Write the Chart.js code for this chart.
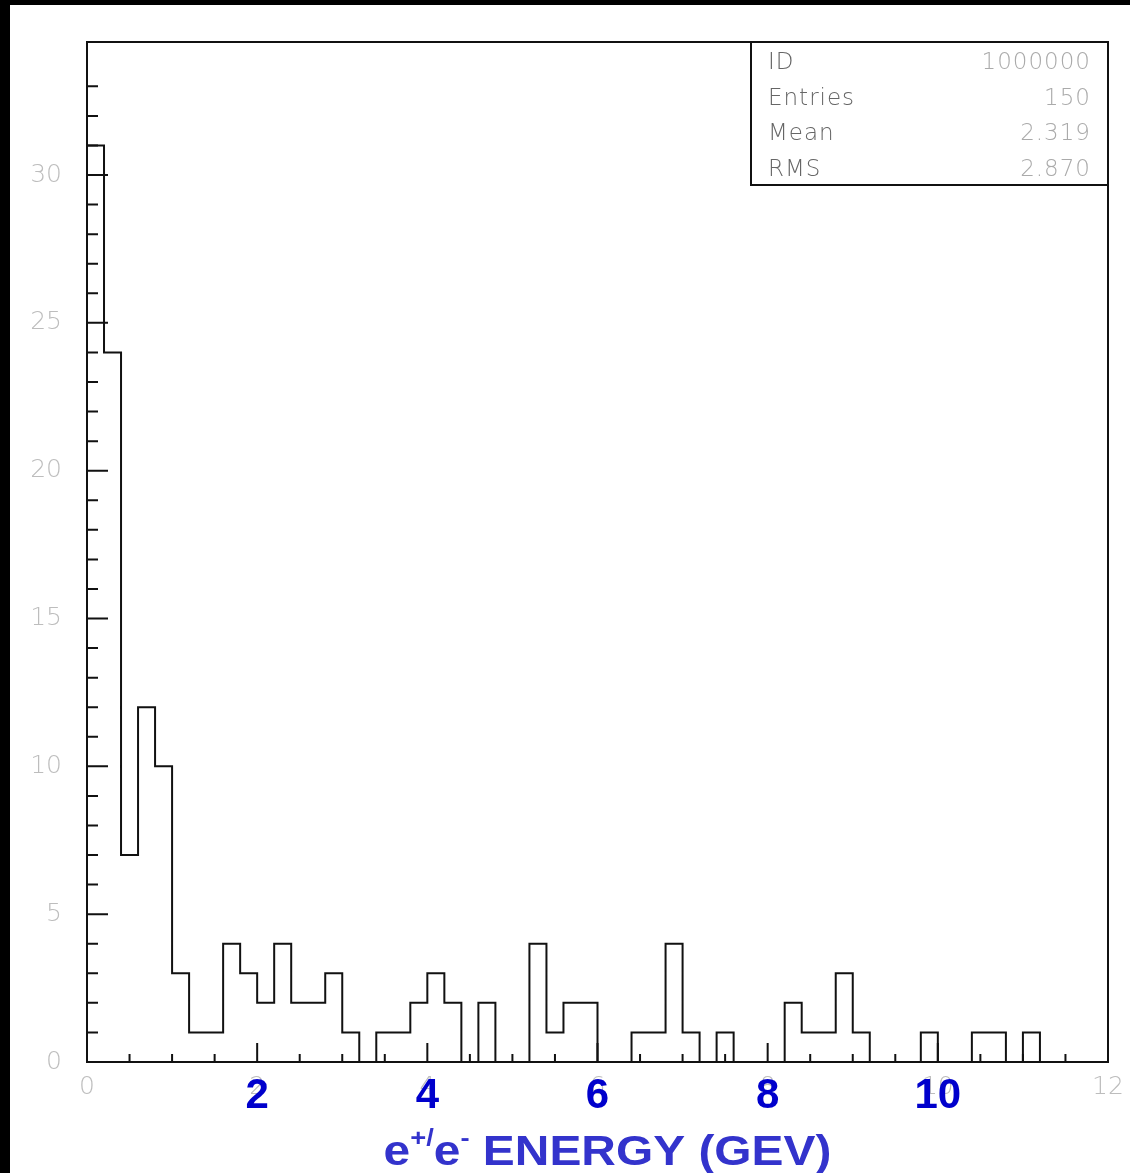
<!DOCTYPE html>
<html lang="en">
<head>
<meta charset="utf-8">
<title>e+/e- energy</title>
<script src="https://cdn.jsdelivr.net/npm/chart.js@4.4.1/dist/chart.umd.min.js"></script>
<style>
    html, body { margin: 0; padding: 0; background: #000; }
    #painel { position: absolute; left: 10px; top: 5px; width: 1120px; height: 1168px; background: #fff; }
    #grafico { display: block; }
</style>
</head>
<body>
<div id="painel"><canvas id="grafico" width="1120" height="1168"></canvas></div>
<script>
// Bordas dos bins (GeV), 60 bins de 0.2
const limitesBins = [
    0, 0.2, 0.4, 0.6, 0.8, 1, 1.2, 1.4, 1.6, 1.8,
    2, 2.2, 2.4, 2.6, 2.8, 3, 3.2, 3.4, 3.6, 3.8,
    4, 4.2, 4.4, 4.6, 4.8, 5, 5.2, 5.4, 5.6, 5.8,
    6, 6.2, 6.4, 6.6, 6.8, 7, 7.2, 7.4, 7.6, 7.8,
    8, 8.2, 8.4, 8.6, 8.8, 9, 9.2, 9.4, 9.6, 9.8,
    10, 10.2, 10.4, 10.6, 10.8, 11, 11.2, 11.4, 11.6, 11.8,
    12
];

// Entradas por bin
const contagens = [
    31, 24, 7, 12, 10, 3, 1, 1, 4, 3,
    2, 4, 2, 2, 3, 1, 0, 1, 1, 2,
    3, 2, 0, 2, 0, 0, 4, 1, 2, 2,
    0, 0, 1, 1, 4, 1, 0, 1, 0, 0,
    0, 2, 1, 1, 3, 1, 0, 0, 0, 1,
    0, 0, 1, 1, 0, 1, 0, 0, 0, 0
];

const rotulosX = [0, 2, 4, 6, 8, 10, 12];
const rotulosXDestaque = ['2', '4', '6', '8', '10'];
const rotulosY = [0, 5, 10, 15, 20, 25, 30];

const estatNomes = ['ID', 'Entries', 'Mean', 'RMS'];
const estatValores = ['1000000', '150', '2.319', '2.870'];

const tituloPartes = [
    { texto: 'e', sup: false },
    { texto: '+/', sup: true },
    { texto: 'e', sup: false },
    { texto: '-', sup: true },
    { texto: ' ENERGY (GEV)', sup: false }
];

const fonteFina = "'DejaVu Sans', sans-serif";
const fonteSlide = "'Liberation Sans', Arial, sans-serif";

/**
 * Moldura, ticks para dentro, caixa de estatisticas e textos azuis do slide.
 */
const decoracaoPaw = {
    id: 'decoracaoPaw',
    afterDraw(chart) {
        const { ctx, chartArea: area, scales: { x, y } } = chart;
        ctx.save();
        ctx.strokeStyle = '#111';
        ctx.lineWidth = 2;

        // moldura do histograma
        ctx.strokeRect(area.left, area.top, area.right - area.left, area.bottom - area.top);

        // ticks internos
        ctx.beginPath();
        y.ticks.forEach(t => {
            if (!Number.isInteger(t.value) || t.value <= y.min) return;
            const py = y.getPixelForValue(t.value);
            const len = t.value % 5 === 0 ? 21 : 11;
            ctx.moveTo(area.left, py);
            ctx.lineTo(area.left + len, py);
        });
        x.ticks.forEach(t => {
            if (t.value <= x.min || t.value >= x.max) return;
            const px = x.getPixelForValue(t.value);
            const len = t.value % 2 === 0 ? 19 : 8;
            ctx.moveTo(px, area.bottom);
            ctx.lineTo(px, area.bottom - len);
        });
        ctx.stroke();

        // caixa de estatisticas
        const caixaL = 357, caixaA = 143;
        const bx = area.right - caixaL, by = area.top;
        ctx.fillStyle = '#fff';
        ctx.fillRect(bx, by, caixaL, caixaA);
        ctx.strokeRect(bx, by, caixaL, caixaA);
        ctx.font = `200 23px ${fonteFina}`;
        ctx.letterSpacing = '1px';
        ctx.textBaseline = 'alphabetic';
        estatNomes.forEach((nome, i) => {
            const base = by + 27 + i * 35.5;
            ctx.textAlign = 'left';
            ctx.fillStyle = '#666';
            ctx.fillText(nome, bx + 17, base);
            ctx.textAlign = 'right';
            ctx.fillStyle = '#aaa';
            ctx.fillText(estatValores[i], bx + 340, base);
        });
        ctx.letterSpacing = '0px';

        // numeros azuis sobrepostos ao eixo
        ctx.font = `bold 42px ${fonteSlide}`;
        ctx.fillStyle = '#0000cc';
        ctx.textAlign = 'center';
        rotulosXDestaque.forEach(r => {
            ctx.fillText(r, x.getPixelForValue(Number(r)), area.bottom + 46);
        });

        // titulo do eixo com sobrescritos
        const escalaX = 1.14;
        const fonteBase = `bold 42px ${fonteSlide}`;
        const fonteSup = `bold 24px ${fonteSlide}`;
        const larguras = tituloPartes.map(p => {
            ctx.font = p.sup ? fonteSup : fonteBase;
            return ctx.measureText(p.texto).width * escalaX;
        });
        const total = larguras.reduce((a, b) => a + b, 0);
        let cx = (area.left + area.right) / 2 + 10 - total / 2;
        ctx.fillStyle = '#3333cc';
        ctx.textAlign = 'left';
        tituloPartes.forEach((p, i) => {
            ctx.save();
            ctx.translate(cx, area.bottom + (p.sup ? 84 : 103));
            ctx.scale(escalaX, 1);
            ctx.font = p.sup ? fonteSup : fonteBase;
            ctx.fillText(p.texto, 0, 0);
            ctx.restore();
            cx += larguras[i];
        });

        ctx.restore();
    }
};

class HistogramaView {
    constructor() {
        this.ctxGrafico = document.getElementById('grafico')?.getContext('2d');
        this.chartInstancia = null;
    }

    /**
     * Monta os pontos do contorno em degraus a partir dos bins.
     */
    montarPontos() {
        const pontos = [{ x: limitesBins[0], y: 0 }];
        contagens.forEach((c, i) => pontos.push({ x: limitesBins[i], y: c }));
        pontos.push({ x: limitesBins[limitesBins.length - 1], y: 0 });
        return pontos;
    }

    renderizar() {
        if (!this.ctxGrafico) return;

        const fonteTicks = { family: fonteFina, size: 25, weight: 200 };

        this.chartInstancia = new Chart(this.ctxGrafico, {
            type: 'line',
            data: {
                datasets: [{
                    data: this.montarPontos(),
                    stepped: 'before',
                    borderColor: '#111',
                    borderWidth: 2,
                    pointRadius: 0,
                    fill: false
                }]
            },
            options: {
                responsive: false,
                animation: false,
                events: [],
                layout: { padding: { top: 37, right: 22, left: 0, bottom: 0 } },
                plugins: {
                    legend: { display: false },
                    tooltip: { enabled: false }
                },
                scales: {
                    x: {
                        type: 'linear',
                        min: 0,
                        max: 12,
                        grid: { display: false, drawTicks: false, tickLength: 0 },
                        border: { display: false },
                        ticks: {
                            stepSize: 0.5,
                            autoSkip: false,
                            maxRotation: 0,
                            padding: 10,
                            color: '#bdbdbd',
                            font: fonteTicks,
                            callback: v => rotulosX.includes(v) ? String(v) : ''
                        },
                        afterFit: s => {
                            s.height = 111;
                            s.paddingLeft = 0;
                            s.paddingRight = 0;
                        }
                    },
                    y: {
                        type: 'linear',
                        min: 0,
                        max: 34.5,
                        grid: { display: false, drawTicks: false, tickLength: 0 },
                        border: { display: false },
                        ticks: {
                            stepSize: 1,
                            autoSkip: false,
                            padding: 25,
                            color: '#bdbdbd',
                            font: fonteTicks,
                            callback: v => rotulosY.includes(v) ? String(v) : ''
                        },
                        afterFit: s => {
                            s.width = 77;
                            s.paddingTop = 0;
                            s.paddingBottom = 0;
                        }
                    }
                }
            },
            plugins: [decoracaoPaw]
        });
    }
}

new HistogramaView().renderizar();
</script>
</body>
</html>
